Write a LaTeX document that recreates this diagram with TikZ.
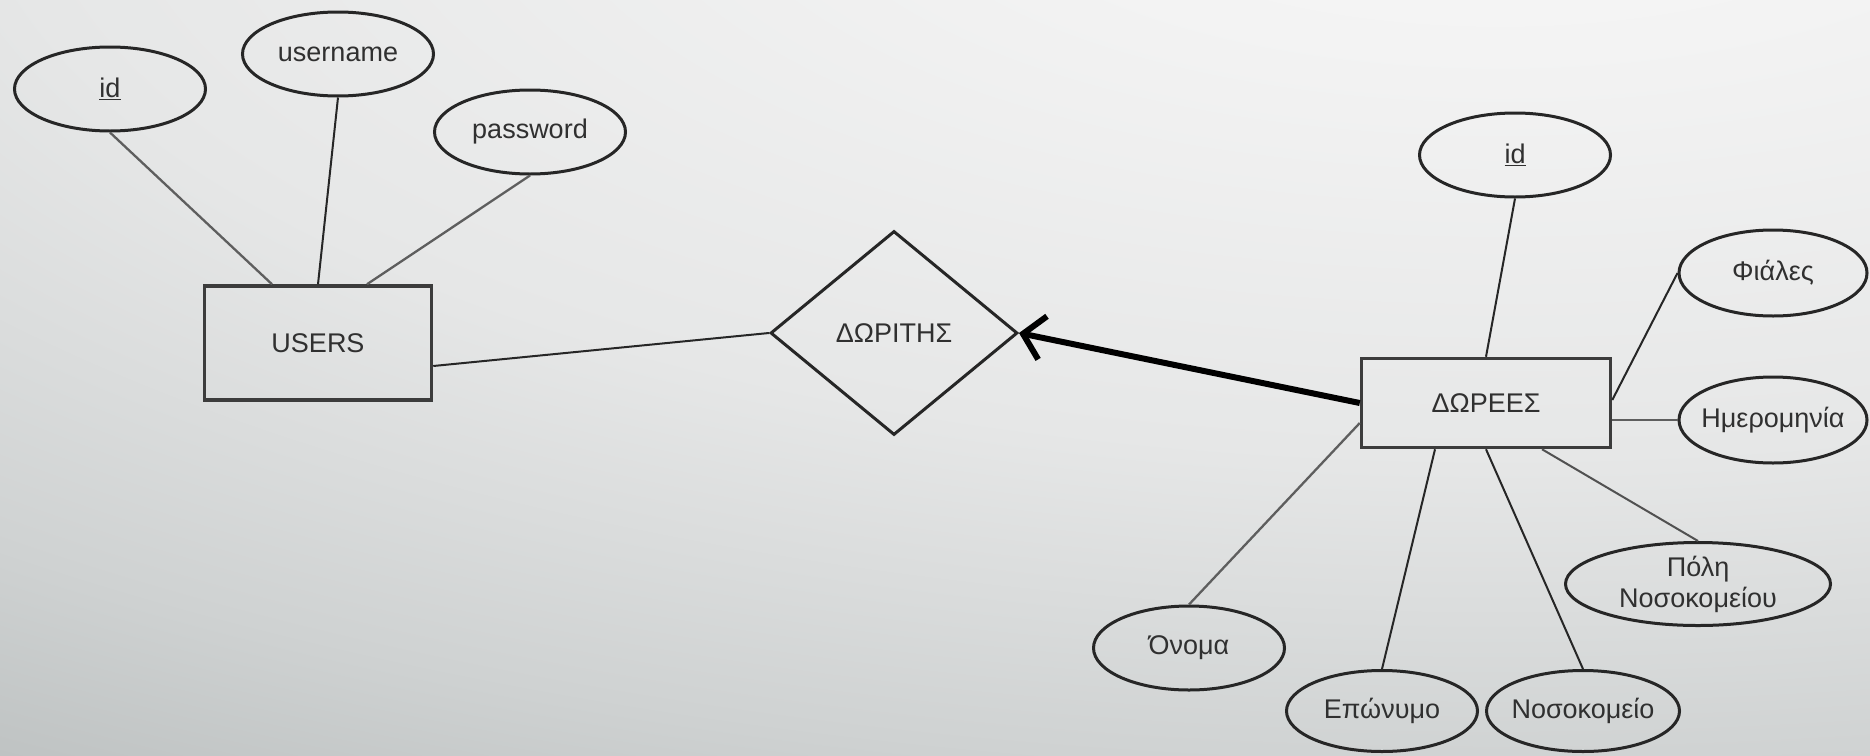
\documentclass[tikz,border=0pt]{standalone}
\usepackage{fontspec}
\setmainfont{Liberation Sans}
\usetikzlibrary{shapes.geometric,arrows.meta}
\definecolor{bgA}{HTML}{F7F7F7}
\definecolor{bgB}{HTML}{F3F3F3}
\definecolor{bgC}{HTML}{E6E7E7}
\definecolor{bgD}{HTML}{CFD2D2}
\definecolor{bgE}{HTML}{BFC3C3}
\definecolor{linedark}{HTML}{262626}
\definecolor{linegray}{HTML}{5E5E5E}
\definecolor{txt}{HTML}{303030}
\pgfdeclareradialshading{bgshade}{\pgfpoint{0bp}{0bp}}{color(0bp)=(bgA); color(4.5bp)=(bgB); color(13.5bp)=(bgC); color(20.5bp)=(bgD); color(24.25bp)=(bgE); color(50bp)=(bgE)}
\tikzset{
  lbl/.style={font=\fontsize{27pt}{31pt}\selectfont, text=txt},
  attr/.style={lbl, ellipse, draw=linedark, line width=3pt, minimum width=191pt, minimum height=84pt, inner sep=0pt},
  entity/.style={lbl, rectangle, draw=linedark!90, line width=3.5pt, inner sep=0pt},
  rel/.style={lbl, diamond, draw=linedark, line width=3pt, minimum width=247pt, minimum height=204pt, inner sep=0pt},
  link/.style={line width=2pt, draw=linedark},
  linkgray/.style={line width=2.3pt, draw=linegray},
  strong/.style={line width=6pt, draw=black, -{Straight Barb[length=20pt,width=44pt]}}
}
\begin{document}
\begin{tikzpicture}[x=1pt, y=-1pt]
\useasboundingbox (0,0) rectangle (1870,755);
\begin{scope}
  \clip (0,0) rectangle (1870,755);
  \shade[shading=bgshade] (-1300,-1270) rectangle (4300,970);
\end{scope}
% left entity and attributes
\node[attr] (idL) at (110,89) {\underline{id}};
\node[attr] (username) at (338,54) {username};
\node[attr] (password) at (530,132) {password};
\node[entity, minimum width=227pt, minimum height=114pt] (users) at (318,343) {USERS};
% relationship
\node[rel] (dor) at (894,333) {ΔΩΡΙΤΗΣ};
% right entity and attributes
\node[entity, minimum width=249pt, minimum height=89pt] (dorees) at (1486,403) {ΔΩΡΕΕΣ};
\node[attr] (idR) at (1515,155) {\underline{id}};
\node[attr, minimum width=188pt, minimum height=86pt] (fiales) at (1773,273) {Φιάλες};
\node[attr, minimum width=188pt, minimum height=86pt] (hmer) at (1773,420) {\makebox[0pt]{Ημερομηνία}};
\node[attr, minimum width=265pt, minimum height=83pt, align=center] (poli) at (1698,584) {Πόλη\\Νοσοκομείου};
\node[attr] (onoma) at (1189,648) {Όνομα};
\node[attr, minimum height=81pt] (eponymo) at (1382,711) {\makebox[0pt]{Επώνυμο}};
\node[attr, minimum width=193pt, minimum height=81pt] (nosok) at (1583,711) {\makebox[0pt]{Νοσοκομείο}};
% connectors left
\draw[linkgray] (idL.south) -- ([xshift=-46pt]users.north);
\draw[link] (username.south) -- (users.north);
\draw[linkgray] (password.south) -- ([xshift=49pt]users.north);
\draw[link] ([yshift=-23pt]users.east) -- (dor.west);
% identifying arrow
\draw[strong] (dorees.west) -- (dor.east);
% connectors right
\draw[link] (dorees.north) -- (idR.south);
\draw[link] ([yshift=3pt]dorees.east) -- (fiales.west);
\draw[linkgray, line width=2.8pt] ([yshift=-17pt]dorees.east) -- (hmer.west);
\draw[link, draw=linedark!80] ([xshift=56pt]dorees.south) -- (poli.north);
\draw[linkgray] ([yshift=-20pt]dorees.west) -- (onoma.north);
\draw[link] ([xshift=-51pt]dorees.south) -- (eponymo.north);
\draw[link] (dorees.south) -- (nosok.north);
\end{tikzpicture}
\end{document}
